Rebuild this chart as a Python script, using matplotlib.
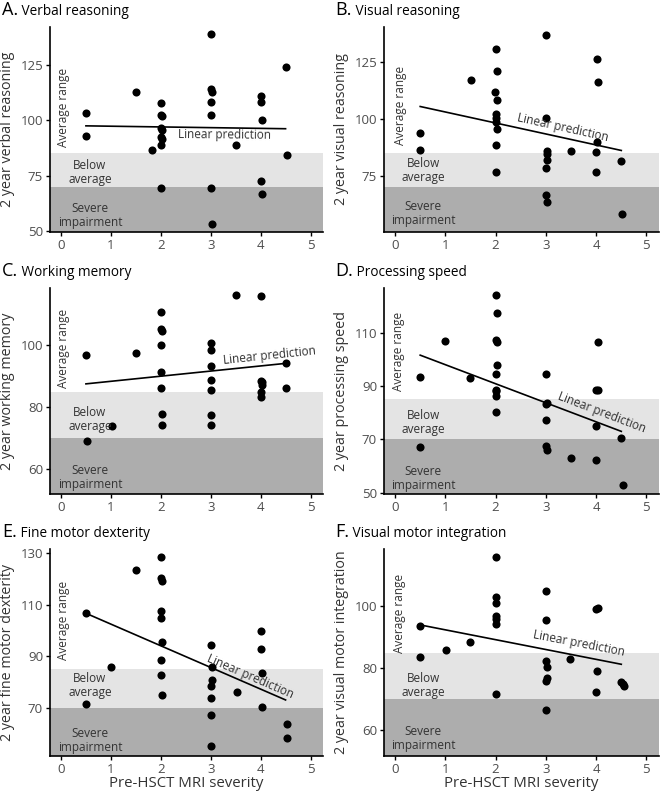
import matplotlib
matplotlib.use("Agg")
import matplotlib.pyplot as plt

plt.rcParams["font.family"] = ["Open Sans", "DejaVu Sans"]

# ---- data ----
severity_a = [0.5, 0.5, 1.5, 1.83, 2, 2, 2.02, 2, 2.02, 2, 2.02, 2, 2, 3, 3, 3.02, 3, 3, 3, 3.02, 3.5, 4, 4, 4.03, 4, 4.03, 4.5, 4.52]
verbal = [103.5, 93, 113, 86.7, 108, 102.4, 101.8, 96.5, 95.5, 92.5, 91.5, 89, 69.6, 138.9, 114.3, 113, 108.3, 102.3, 69.6, 53, 89, 111, 108.1, 100.3, 72.6, 66.5, 124.1, 84.5]

severity_b = [0.5, 0.5, 1.52, 2, 2.02, 1.98, 2.02, 2, 2, 2, 2.02, 2, 2, 3, 3, 3.02, 3.02, 3.02, 3, 3, 3.02, 3.5, 4.02, 4.03, 4.02, 4, 4, 4.5, 4.52]
visual = [93.9, 86.2, 117, 130.9, 121, 111.9, 108.3, 102, 100.4, 98.5, 95.8, 88.7, 76.7, 137.1, 100.4, 85.8, 84.8, 82.2, 78.3, 66.7, 63.6, 85.9, 126.4, 116.4, 89.9, 85.7, 76.8, 81.6, 58.4]

severity_c = [0.5, 0.52, 1.03, 1.5, 2, 2, 2.03, 2, 2, 2, 2.02, 2.02, 3, 3, 3, 3, 3, 3, 3, 3.5, 4, 4, 4.02, 4.03, 4, 4, 4.5, 4.5]
working = [96.9, 69, 73.8, 97.6, 110.6, 105.3, 104.7, 100, 91.4, 86.1, 77.7, 74.2, 100.8, 98.3, 93.4, 88.6, 85.5, 77.4, 74.2, 116.1, 115.9, 88.5, 88.1, 87.2, 84.8, 83.2, 94.1, 86.2]

severity_d = [0.5, 0.5, 1.0, 1.5, 2, 2.02, 2, 2.02, 2.02, 2, 2, 2, 2, 2, 3, 3.02, 3, 3, 3, 3.03, 3.5, 4.03, 4.03, 4.0, 4, 4, 4.5, 4.53]
speed = [93.5, 67.1, 106.75, 93, 124, 117.25, 107.25, 106.6, 98, 94.4, 88.6, 88.25, 86.4, 80.1, 94.4, 83.75, 83.1, 77.25, 67.4, 65.9, 63, 106.5, 88.6, 88.5, 75.1, 62.1, 70.5, 53]

severity_e = [0.5, 0.5, 1.0, 1.5, 2, 2, 2.03, 2, 2, 2.03, 2, 2, 2.02, 3, 3.02, 3.02, 3, 3, 3, 3, 3.52, 4, 4, 4.02, 4.02, 4.52, 4.52]
fine_motor = [107, 71.4, 85.9, 123.4, 128.7, 120.3, 119.2, 107.7, 104.7, 95.4, 88.7, 82.8, 74.9, 94.4, 85.9, 80.9, 78.3, 73.9, 67.3, 55.1, 76.2, 100, 92.9, 83.3, 70.4, 63.7, 58.3]

severity_f = [0.5, 0.5, 1.02, 1.5, 2, 2, 2, 2, 2, 2, 2, 3, 3, 3, 3.02, 3.02, 3, 3, 3.48, 4, 4.03, 4.02, 4, 4.5, 4.53, 4.55]
visual_motor = [93.8, 83.8, 86, 88.6, 115.8, 103.1, 101.2, 96.8, 95.9, 94.2, 71.6, 105, 95.7, 82.3, 80.3, 76.8, 76, 66.6, 83.1, 99, 99.3, 79.1, 72.5, 75.5, 74.8, 74.3]

# linear prediction endpoints at severity 0.5 and 4.5
pred_x = [0.5, 4.5]
pred_a = [97.5, 96.2]
pred_b = [105.5, 86.2]
pred_c = [87.5, 94.1]
pred_d = [101.6, 73.0]
pred_e = [106.7, 73.0]
pred_f = [94.0, 81.3]

letters = ["A.", "B.", "C.", "D.", "E.", "F."]
titles = ["Verbal reasoning", "Visual reasoning", "Working memory",
          "Processing speed", "Fine motor dexterity", "Visual motor integration"]
ylabels = ["2 year verbal reasoning", "2 year visual reasoning", "2 year working memory",
           "2 year processing speed", "2 year fine motor dexterity", "2 year visual motor integration"]
yticks = [[50, 75, 100, 125], [75, 100, 125], [60, 80, 100],
          [50, 70, 90, 110], [70, 90, 110, 130], [60, 80, 100]]

panels = [
    (severity_a, verbal, pred_a),
    (severity_b, visual, pred_b),
    (severity_c, working, pred_c),
    (severity_d, speed, pred_d),
    (severity_e, fine_motor, pred_e),
    (severity_f, visual_motor, pred_f),
]

# layout / label placement (pixels and data coords)
W, H = 660, 794
cols = [(50, 323), (384, 659)]
rows = [(27, 232), (288, 494), (549, 756)]
ylims = [(49.5, 142.2), (50.4, 140.4), (52.0, 118.4), (49.5, 126.8), (51.2, 131.7), (51.7, 118.5)]
avg_pos = [(0.06, 106), (0.1, 105.8), (0.06, 99), (0.07, 103), (0.06, 104), (0.08, 97.6)]
below_pos = [(0.58, 76.5), (0.56, 77.5), (0.58, 75.9), (0.56, 76.5), (0.58, 78.8), (0.56, 74.5)]
severe_pos = [(0.58, 57), (0.56, 58.7), (0.58, 57.2), (0.56, 55.5), (0.58, 57.4), (0.56, 57.4)]
pred_lab = [(3.27, 93.2, -0.5), (3.33, 96.4, -12.5), (4.17, 96.7, 6),
            (4.12, 79.9, -21), (3.8, 82, -23.5), (3.66, 87.9, -11)]

light_grey = "#e4e4e4"
dark_grey = "#adadad"
text_col = "#333333"

fig = plt.figure(figsize=(W / 100, H / 100), dpi=100)

for i, (xs, ys, pred) in enumerate(panels):
    r, c = divmod(i, 2)
    x0, x1 = cols[c]
    top, bot = rows[r]
    ax = fig.add_axes([x0 / W, 1 - bot / H, (x1 - x0) / W, (bot - top) / H])
    ax.set_xlim(-0.22, 5.25)
    ax.set_ylim(*ylims[i])

    ax.axhspan(0, 70, color=dark_grey, lw=0, zorder=0)
    ax.axhspan(70, 85, color=light_grey, lw=0, zorder=0)

    ax.scatter(xs, ys, s=34, color="black", zorder=3, linewidths=0)
    ax.plot(pred_x, pred, color="black", lw=1.2, zorder=2)

    ax.text(*avg_pos[i], "Average range", rotation=90, ha="center", va="center",
            fontsize=8.5, color=text_col)
    ax.text(*below_pos[i], "Below\naverage", ha="center", va="center",
            fontsize=8.5, color=text_col, linespacing=1.1)
    ax.text(*severe_pos[i], "Severe\nimpairment", ha="center", va="center",
            fontsize=8.5, color=text_col, linespacing=1.1)
    px, py, rot = pred_lab[i]
    ax.text(px, py, "Linear prediction", rotation=rot, rotation_mode="anchor",
            ha="center", va="center", fontsize=8.5, color=text_col)

    ax.set_xticks([0, 1, 2, 3, 4, 5])
    ax.set_yticks(yticks[i])
    ax.tick_params(labelsize=9.5, labelcolor="#4d4d4d", length=3, width=1,
                   color="black", pad=2)
    for s in ["top", "right"]:
        ax.spines[s].set_visible(False)
    for s in ["left", "bottom"]:
        ax.spines[s].set_linewidth(1.2)

    ax.set_ylabel(ylabels[i], fontsize=10.3, color=text_col)
    ax.yaxis.set_label_coords((15 - x0 + (0 if c == 0 else 334)) / (x1 - x0), 0.5)
    if r == 2:
        ax.set_xlabel("Pre-HSCT MRI severity", fontsize=10.8, color=text_col, labelpad=0)

    # panel title
    tx = 2 if c == 0 else 335
    ty = top - 12
    t = fig.text(tx / W, 1 - ty / H, letters[i], fontsize=13, va="baseline", ha="left")
    ax.annotate(" " + titles[i], xy=(1, 0), xycoords=t, va="bottom", ha="left",
                fontsize=9.8, annotation_clip=False)

fig.savefig("out.png", dpi=100)
